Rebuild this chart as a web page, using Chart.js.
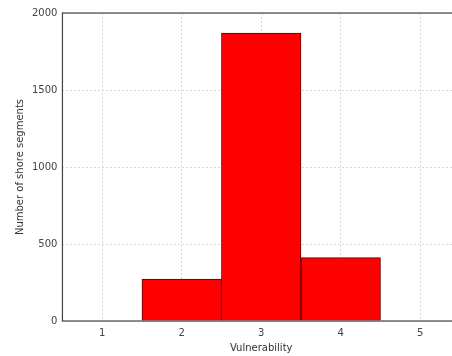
<!DOCTYPE html>
<html>
<head>
<meta charset="utf-8">
<script src="https://cdn.jsdelivr.net/npm/chart.js@4/dist/chart.umd.min.js"></script>
<style>
html,body{margin:0;padding:0;background:#fff;overflow:hidden;}
#wrap{width:460px;height:356px;}
</style>
</head>
<body>
<div id="wrap"><canvas id="grafico" width="460" height="356"></canvas></div>
<script>
const categorias = ["1", "2", "3", "4", "5"]
const segmentos = [0, 272, 1870, 412, 0]
const ticksY = [0, 500, 1000, 1500, 2000]

// marco completo tipo matplotlib
const marco = {
  id: "marco",
  afterDatasetsDraw(chart){
    const a = chart.chartArea
    const ctx = chart.ctx
    ctx.save()
    ctx.strokeStyle = "#444"
    ctx.lineWidth = 1.2
    ctx.strokeRect(a.left, a.top, a.right - a.left, a.bottom - a.top)
    ctx.restore()
  }
}

new Chart(document.getElementById("grafico"), {
  type: "bar",
  data: {
    labels: categorias,
    datasets: [{
      label: "Shore segments",
      data: segmentos,
      backgroundColor: "#ff0000",
      borderColor: "#5a0000",
      borderWidth: 1,
      barPercentage: 1,
      categoryPercentage: 1
    }]
  },
  options: {
    responsive: false,
    animation: false,
    layout: {padding: {top: 13, right: 0, left: 14, bottom: 2}},
    plugins: {legend: {display: false}, tooltip: {enabled: false}},
    scales: {
      x: {
        offset: true,
        grid: {offset: false, color: "#d8d8d8", drawTicks: false},
        border: {display: false, dash: [2, 2]},
        ticks: {color: "#444", font: {family: "DejaVu Sans", size: 10}, padding: 6},
        title: {display: true, text: "Vulnerability", color: "#333", font: {family: "DejaVu Sans", size: 10}, padding: {top: -3, bottom: 0}}
      },
      y: {
        min: 0,
        max: 2000,
        afterBuildTicks(axis){ axis.ticks = ticksY.map(v => ({value: v})) },
        grid: {color: "#d8d8d8", drawTicks: false},
        border: {display: false, dash: [2, 2]},
        ticks: {color: "#444", font: {family: "DejaVu Sans", size: 10}, padding: 5, callback: v => String(v)},
        title: {display: true, text: "Number of shore segments", color: "#333", font: {family: "DejaVu Sans", size: 10}, padding: {top: 0, bottom: 1}}
      }
    }
  },
  plugins: [marco]
})
</script>
</body>
</html>
